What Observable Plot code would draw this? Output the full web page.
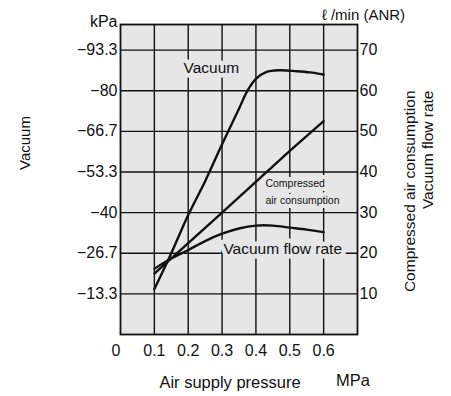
<!DOCTYPE html>
<html>
<head>
<meta charset="utf-8">
<script src="https://cdn.jsdelivr.net/npm/d3@7"></script>
<script src="https://cdn.jsdelivr.net/npm/@observablehq/plot@0.6"></script>
<style>
  body { margin: 0; background: white; }
</style>
</head>
<body>
<div id="chart"></div>
<script>
// Air supply pressure (MPa)
const vacPressure = [0.1, 0.15, 0.2, 0.25, 0.3, 0.35, 0.375, 0.4, 0.43, 0.47, 0.52, 0.56, 0.6];
// Vacuum (kPa)
const vacKPa = [-14.9, -26.7, -39.2, -50.3, -62.4, -74.1, -80.0, -83.9, -86.1, -86.7, -86.4, -86.0, -85.3];

const airPressure = [0.1, 0.3, 0.5, 0.6];
// Compressed air consumption (ℓ/min ANR)
const airFlow = [15.0, 30.0, 45.2, 52.5];

const flowPressure = [0.1, 0.15, 0.2, 0.25, 0.3, 0.35, 0.4, 0.45, 0.5, 0.55, 0.6];
// Vacuum flow rate (ℓ/min ANR)
const vacFlow = [16.2, 18.7, 20.8, 23.0, 24.8, 26.1, 26.8, 26.8, 26.3, 25.8, 25.2];

const xTicks = [0.1, 0.2, 0.3, 0.4, 0.5, 0.6];
const rightTicks = [10, 20, 30, 40, 50, 60, 70];
const leftTickLabels = ["−13.3", "−26.7", "−40", "−53.3", "−66.7", "−80", "−93.3"];

const KPA_PER_UNIT = 1.3332; // 13.33 kPa per 10 ℓ/min division

const vacuumData = vacPressure.map((p, i) => ({p, v: -vacKPa[i] / KPA_PER_UNIT}));
const airData = airPressure.map((p, i) => ({p, v: airFlow[i]}));
const flowData = flowPressure.map((p, i) => ({p, v: vacFlow[i]}));

const FONT = "Liberation Sans, Arial, Helvetica, sans-serif";
const BG = "#e6e6e6";

const chart = Plot.plot({
  width: 451,
  height: 396,
  marginLeft: 120,
  marginRight: 94,
  marginTop: 24,
  marginBottom: 62,
  style: {fontFamily: FONT, fontSize: "16px", background: "white", color: "#111"},
  x: {domain: [0, 0.7]},
  y: {domain: [0, 76.3]},
  marks: [
    Plot.frame({fill: BG, stroke: null}),
    Plot.gridX(xTicks, {stroke: "#111", strokeOpacity: 1, strokeWidth: 1.4}),
    Plot.gridY(rightTicks, {stroke: "#111", strokeOpacity: 1, strokeWidth: 1.4}),
    // in-plot labels with background halo (drawn under the curves)
    Plot.text(["Vacuum"], {x: 0.186, y: 64.4, text: d => d, textAnchor: "start", lineAnchor: "bottom",
      fontSize: 15.5, fill: "#111", stroke: BG, strokeWidth: 9}),
    Plot.text(["Compressed"], {x: 0.428, y: 36.25, text: d => d, textAnchor: "start", lineAnchor: "bottom",
      fontSize: 10.5, fill: "#111", stroke: BG, strokeWidth: 8, letterSpacing: "0.8px"}),
    Plot.text(["air consumption"], {x: 0.428, y: 32.2, text: d => d, textAnchor: "start", lineAnchor: "bottom",
      fontSize: 10.5, fill: "#111", stroke: BG, strokeWidth: 8, letterSpacing: "0.6px"}),
    Plot.text(["Vacuum flow rate"], {x: 0.304, y: 19.7, text: d => d, textAnchor: "start", lineAnchor: "bottom",
      fontSize: 15.5, fill: "#111", stroke: BG, strokeWidth: 9}),
    Plot.line(vacuumData, {x: "p", y: "v", curve: "catmull-rom", stroke: "#111", strokeWidth: 2.4}),
    Plot.line(airData, {x: "p", y: "v", curve: "linear", stroke: "#111", strokeWidth: 2.4}),
    Plot.line(flowData, {x: "p", y: "v", curve: "catmull-rom", stroke: "#111", strokeWidth: 2.4}),
    Plot.frame({stroke: "#111", strokeWidth: 1.8}),
    // axes
    Plot.axisX(xTicks, {anchor: "bottom", tickSize: 0, tickPadding: 10, tickFormat: d => d.toFixed(1),
      fontSize: 16, label: null}),
    Plot.axisY(rightTicks, {anchor: "left", tickSize: 0, tickPadding: 3,
      tickFormat: (d, i) => leftTickLabels[rightTicks.indexOf(d)], fontSize: 16, label: null}),
    Plot.axisY(rightTicks, {anchor: "right", tickSize: 0, tickPadding: 2, fontSize: 16, label: null}),
    Plot.text(["0"], {frameAnchor: "bottom-left", dx: -9, dy: 10, lineAnchor: "top", fontSize: 16}),
    // units and titles
    Plot.text(["kPa"], {frameAnchor: "top-left", dx: -3, dy: 2, textAnchor: "end", lineAnchor: "bottom", fontSize: 16}),
    Plot.text(["ℓ /min (ANR)"], {frameAnchor: "top-right", dx: 6, dy: -5, textAnchor: "middle", lineAnchor: "bottom", fontSize: 15}),
    Plot.text(["Air supply pressure"], {frameAnchor: "bottom-left", dx: 109.5, dy: 53, textAnchor: "middle", lineAnchor: "bottom", fontSize: 16.5}),
    Plot.text(["MPa"], {frameAnchor: "bottom-right", dx: -4.5, dy: 51, textAnchor: "middle", lineAnchor: "bottom", fontSize: 16.5}),
    Plot.text(["Vacuum"], {frameAnchor: "top-left", dx: -95, dy: 118.5, rotate: -90, textAnchor: "middle", lineAnchor: "middle", fontSize: 15}),
    Plot.text(["Compressed air consumption"], {frameAnchor: "top-right", dx: 53, dy: 66, rotate: -90, textAnchor: "end", lineAnchor: "middle", fontSize: 15.5}),
    Plot.text(["Vacuum flow rate"], {frameAnchor: "top-right", dx: 71, dy: 66, rotate: -90, textAnchor: "end", lineAnchor: "middle", fontSize: 15.5})
  ]
});
document.getElementById("chart").appendChild(chart);
</script>
</body>
</html>
